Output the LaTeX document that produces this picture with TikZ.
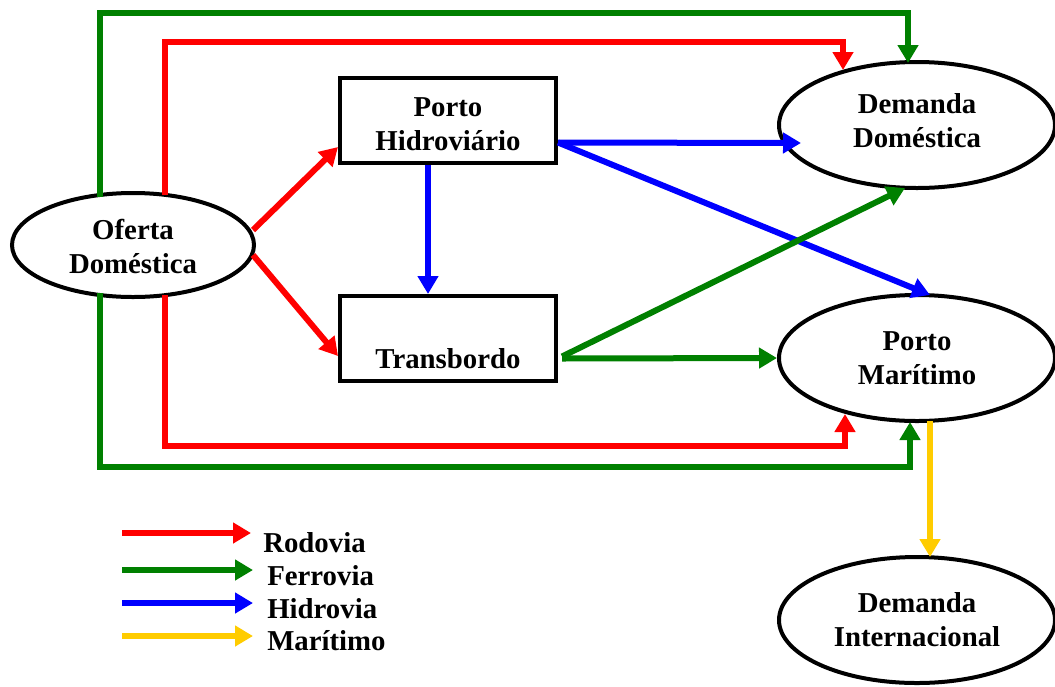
\documentclass[tikz,border=0pt]{standalone}
\usepackage{fontspec}
\setmainfont{Liberation Serif}
\usetikzlibrary{shapes.geometric,arrows.meta,calc}
\definecolor{rRed}{HTML}{FF0000}
\definecolor{rGreen}{HTML}{008000}
\definecolor{rBlue}{HTML}{0000FF}
\definecolor{rYellow}{HTML}{FFCC00}
\tikzset{
  lbl/.style={font=\bfseries\fontsize{21.6}{25.5}\selectfont, align=center},
  oval/.style={ellipse, draw, line width=3pt, inner sep=0pt},
  boxn/.style={draw, line width=3pt, minimum width=216*0.75pt, minimum height=85*0.75pt, inner sep=0pt},
  conn/.style={line width=4.5pt, -{Triangle[length=13.5pt,width=15pt]}},
  road/.style={conn, rRed},
  rail/.style={conn, rGreen},
  water/.style={conn, rBlue},
  sea/.style={conn, rYellow},
}
\begin{document}
\begin{tikzpicture}[x=0.75pt,y=-0.75pt]
\useasboundingbox (0,0) rectangle (1055,686);
\node[oval, minimum width=242*0.75pt, minimum height=104*0.75pt,
  label={[lbl,yshift=-1pt]center:{Oferta\\Doméstica}}] (of) at (133,245) {};
\node[boxn, label={[lbl,yshift=-3pt]center:{Porto\\Hidroviário}}] (ph) at (448,120.5) {};
\node[boxn, label={[lbl,yshift=-15pt]center:{Transbordo}}] (tr) at (448,338.5) {};
\node[oval, minimum width=276*0.75pt, minimum height=126*0.75pt,
  label={[lbl,yshift=3.5pt]center:{Demanda\\Doméstica}}] (dd) at (917,125) {};
\node[oval, minimum width=276*0.75pt, minimum height=126*0.75pt,
  label={[lbl]center:{Porto\\Marítimo}}] (pm) at (917,358) {};
\node[oval, minimum width=276*0.75pt, minimum height=126*0.75pt,
  label={[lbl]center:{Demanda\\Internacional}}] (di) at (917,620) {};

% outer road / rail loops
\coordinate (r1) at ($(of.center)+(32,-50)$);
\coordinate (r2) at ($(dd.center)+(-74,-55)$);
\draw[road] (r1) |- ($(r2)+(0,-28)$) -- (r2);
\coordinate (g1) at ($(of.center)+(-33,-48)$);
\coordinate (g2) at ($(dd.center)+(-9,-62)$);
\draw[rail] (g1) |- ($(g2)+(0,-50)$) -- (g2);
\coordinate (r3) at ($(of.center)+(32,50)$);
\coordinate (r4) at ($(pm.center)+(-72,56)$);
\draw[road] (r3) |- ($(r4)+(0,32)$) -- (r4);
\coordinate (g3) at ($(of.center)+(-33,48)$);
\coordinate (g4) at ($(pm.center)+(-7,64)$);
\draw[rail] (g3) |- ($(g4)+(0,45)$) -- (g4);

% road diagonals
\draw[road] ($(of.center)+(120,-15)$) -- ($(ph.south west)+(0,-18)$);
\draw[road] ($(of.center)+(120,10)$) -- ($(tr.south west)+(0,-27)$);

% water
\coordinate (ph1) at ($(ph.east)+(0,22)$);
\draw[water] (ph1) -- ($(dd.center)+(-116,18)$);
\draw[water] (ph1) -- ($(pm.center)+(13,-63)$);
\draw[water] ($(ph.south)+(-20,0)$) -- ($(tr.north)+(-20,0)$);

% rail from transbordo
\draw[rail] ($(tr.east)+(4,20)$) -- (pm.west);
\draw[rail] ($(tr.east)+(4,18)$) -- ($(dd.center)+(-12,63)$);

% sea
\draw[sea] ($(pm.center)+(13,63)$) -- ($(di.center)+(13,-63)$);

% legend
\coordinate (l1a) at (122,533); \coordinate (l1b) at (251,533);
\coordinate (l2a) at (122,570); \coordinate (l2b) at (253,570);
\coordinate (l3a) at (122,603); \coordinate (l3b) at (253,603);
\coordinate (l4a) at (122,636); \coordinate (l4b) at (253,636);
\draw[road] (l1a) -- (l1b);
\draw[rail] (l2a) -- (l2b);
\draw[water] (l3a) -- (l3b);
\draw[sea] (l4a) -- (l4b);
\node[lbl, anchor=west, inner sep=0pt] (t1) at (263,543) {Rodovia};
\node[lbl, anchor=west, inner sep=0pt] (t2) at (267,576) {Ferrovia};
\node[lbl, anchor=west, inner sep=0pt] (t3) at (267,609) {Hidrovia};
\node[lbl, anchor=west, inner sep=0pt] (t4) at (267,641) {Marítimo};
\end{tikzpicture}
\end{document}
